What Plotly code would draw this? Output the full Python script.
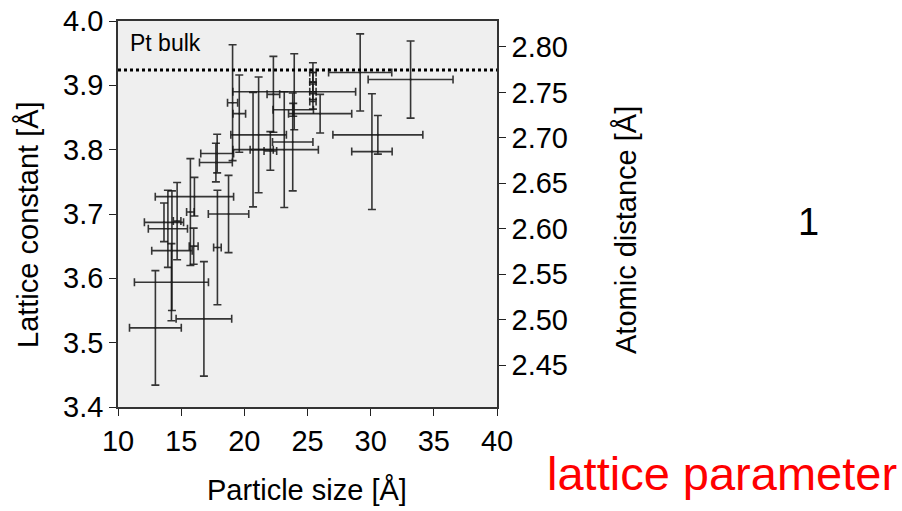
import math
import plotly.graph_objects as go

# Particle size [Å], lattice constant [Å], and their errors
size = [12.96, 14.23, 16.8, 14.27, 13.95, 13.64, 16.05, 18.75, 17.85, 17.75,
        15.73, 14.68, 15.99, 17.87, 19.07, 19.6, 20.69, 21.13, 22.06, 22.3,
        23.95, 23.16, 23.83, 23.87, 25.43, 25.43, 25.43, 25.43, 26.0, 29.17,
        33.16, 30.1, 30.57]
lattice = [3.523, 3.594, 3.537, 3.643, 3.677, 3.687, 3.727, 3.70, 3.794, 3.78,
           3.703, 3.689, 3.65, 3.648, 3.873, 3.856, 3.80, 3.823, 3.798, 3.886,
           3.89, 3.80, 3.812, 3.862, 3.92, 3.905, 3.89, 3.875, 3.856, 3.92,
           3.909, 3.797, 3.823]
size_err = [2.05, 2.93, 2.2, 1.6, 1.55, 1.55, 3.1, 1.6, 1.3, 1.3,
            0.3, 0.3, 0.35, 0.3, 0.4, 0.5, 1.6, 2.2, 0.5, 0.5,
            4.86, 2.7, 1.6, 1.6, 0.25, 0.25, 0.25, 0.25, 2.5, 2.5,
            3.36, 1.6, 3.56]
lattice_err = [0.089, 0.06, 0.089, 0.093, 0.06, 0.03, 0.03, 0.06, 0.03, 0.03,
               0.083, 0.06, 0.028, 0.089, 0.09, 0.06, 0.089, 0.09, 0.03, 0.059,
               0.059, 0.09, 0.076, 0.01, 0.015, 0.015, 0.012, 0.012, 0.03, 0.06,
               0.06, 0.09, 0.03]

pt_bulk = 3.924
x_range = [10, 40]
y_range = [3.4, 4.0]
x_ticks = [10, 15, 20, 25, 30, 35, 40]
y_ticks = [3.4, 3.5, 3.6, 3.7, 3.8, 3.9, 4.0]
y2_ticks = [2.45, 2.50, 2.55, 2.60, 2.65, 2.70, 2.75, 2.80]

FONT = "Arial, Liberation Sans, sans-serif"
bar_col = "rgba(20,20,20,0.85)"

W, H = 902, 511
# plot area in page pixels: x 118..497, y 21..407
L, R, T, B = 118, W - 497, 21, H - 407
pw, ph = W - L - R, H - T - B


def px(x):
    return (x - L) / pw


def py(y):
    return (H - B - y) / ph


fig = go.Figure()
fig.add_trace(go.Scatter(
    x=size, y=lattice, mode="markers",
    marker=dict(size=2, color="#222"),
    error_x=dict(type="data", array=size_err, color=bar_col, thickness=1.6, width=4),
    error_y=dict(type="data", array=lattice_err, color=bar_col, thickness=1.6, width=4),
    showlegend=False, hoverinfo="skip"))
fig.add_trace(go.Scatter(
    x=x_range, y=[pt_bulk, pt_bulk], mode="lines",
    line=dict(color="black", width=3, dash="dot"),
    showlegend=False, hoverinfo="skip"))
# invisible trace on the atomic-distance axis (a / sqrt(2))
fig.add_trace(go.Scatter(
    x=size, y=[v / math.sqrt(2) for v in lattice], yaxis="y2", mode="markers",
    marker=dict(size=1, opacity=0), showlegend=False, hoverinfo="skip"))

axis_common = dict(ticks="outside", ticklen=7, tickcolor="#222", showline=True,
                   linecolor="#333", linewidth=1.5, showgrid=False,
                   zeroline=False, automargin=False, ticklabeloverflow="allow",
                   tickfont=dict(size=29))

fig.update_layout(
    width=W, height=H,
    margin=dict(l=L, r=R, t=T, b=B, autoexpand=False),
    paper_bgcolor="white", plot_bgcolor="#efefef",
    font=dict(family=FONT, size=29, color="black"),
    xaxis=dict(range=x_range, tickvals=x_ticks, mirror=True, **axis_common),
    yaxis=dict(range=y_range, tickvals=y_ticks, tickformat=".1f", mirror=True,
               **axis_common),
    yaxis2=dict(range=[y_range[0] / math.sqrt(2), y_range[1] / math.sqrt(2)],
                overlaying="y", side="right", tickvals=y2_ticks,
                tickformat=".2f", **axis_common),
    annotations=[
        dict(text="Particle size [Å]", x=px(307), y=py(490), xref="paper",
             yref="paper", xanchor="center", yanchor="middle", showarrow=False,
             font=dict(size=29, family=FONT)),
        dict(text="Lattice constant [Å]", x=px(28), y=py(225), xref="paper",
             yref="paper", xanchor="center", yanchor="middle", textangle=-90,
             showarrow=False, font=dict(size=29, family=FONT)),
        dict(text="Atomic distance [Å]", x=px(626), y=py(230), xref="paper",
             yref="paper", xanchor="center", yanchor="middle", textangle=-90,
             showarrow=False, font=dict(size=29, family=FONT)),
        dict(text="Pt bulk", x=px(128), y=py(43), xref="paper", yref="paper",
             xanchor="left", yanchor="middle", showarrow=False,
             font=dict(size=23, family=FONT)),
        dict(text="1", x=px(808), y=py(222), xref="paper", yref="paper",
             xanchor="center", yanchor="middle",
             showarrow=False, font=dict(size=38, family=FONT)),
        dict(text="lattice parameter", x=px(722), y=py(473), xref="paper",
             yref="paper", xanchor="center", yanchor="middle", showarrow=False,
             font=dict(size=47, family=FONT, color="red")),
    ],
)

fig.write_html(
    "out.html",
    config={"displayModeBar": False},
    post_script="document.body.style.margin='0px';"
                "document.body.style.overflow='hidden';",
)
